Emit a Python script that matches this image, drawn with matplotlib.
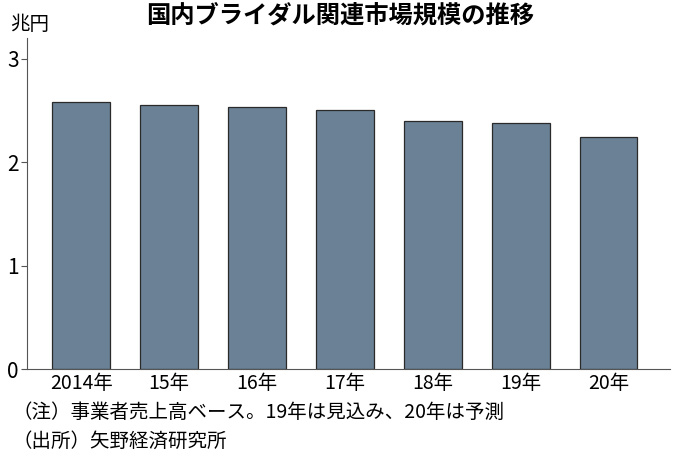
import numpy as np
import matplotlib.pyplot as plt

plt.rcParams['font.family'] = ['Noto Sans CJK JP', 'DejaVu Sans']
narrow = ['Liberation Sans Narrow', 'Noto Sans CJK JP', 'DejaVu Sans']

years = ['2014年', '15年', '16年', '17年', '18年', '19年', '20年']
market = [2.58, 2.55, 2.53, 2.50, 2.40, 2.38, 2.24]
yticks = [0, 1, 2, 3]

fig = plt.figure(figsize=(6.8, 4.63), dpi=100)
ax = fig.add_axes([27 / 680, 1 - 369 / 463, 643 / 680, 331 / 463])

x = np.arange(len(years))
ax.bar(x, market, width=0.66, color='#6b8296', edgecolor='#2a2a2a', linewidth=0.9)

ax.set_xlim(-0.62, 6.70)
ax.set_ylim(0, 3.2)
ax.set_yticks(yticks)
ax.set_yticklabels([str(v) for v in yticks], fontsize=15, family=narrow)
ax.set_xticks(x)
ax.set_xticklabels(years, fontsize=14, family=narrow)
ax.tick_params(axis='x', length=0, pad=3)
ax.tick_params(axis='y', length=4, direction='out', pad=2, color='#555555')

for side in ['top', 'right']:
    ax.spines[side].set_visible(False)
ax.spines['left'].set_color('#555555')
ax.spines['bottom'].set_color('#555555')

fig.text(10 / 680, 1 - 24 / 463, '兆円', fontsize=14, va='center', ha='left')
fig.text(340 / 680, 1 - 16 / 463, '国内ブライダル関連市場規模の推移', fontsize=17.5,
         fontweight='bold', ha='center', va='center')
fig.text(12 / 680, 1 - 412 / 463, '（注）事業者売上高ベース。19年は見込み、20年は予測',
         fontsize=14, ha='left', va='center')
fig.text(12 / 680, 1 - 441 / 463, '（出所）矢野経済研究所', fontsize=14, ha='left', va='center')

fig.savefig('out.png', dpi=100)
